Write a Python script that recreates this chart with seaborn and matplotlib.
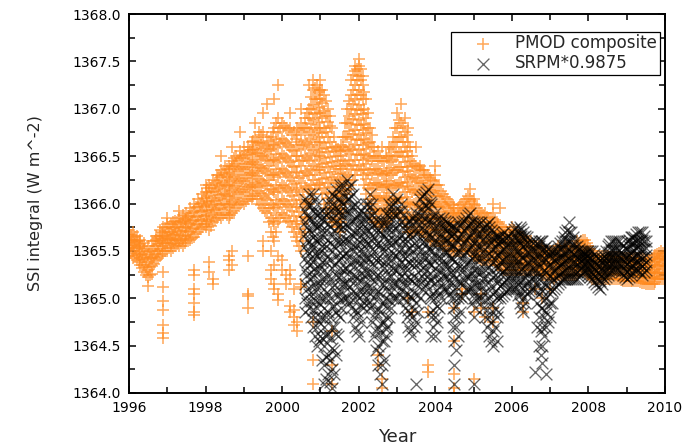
import matplotlib
matplotlib.use("Agg")
import matplotlib.pyplot as plt
import pandas as pd
import seaborn as sns

# ---------------- data ----------------
pmod_year = [1996.0, 1996.1, 1996.2, 1996.3, 1996.4, 1996.5, 1996.6, 1996.7, 1996.8, 1996.9,
             1997.0, 1997.1, 1997.2, 1997.3, 1997.4, 1997.5, 1997.6, 1997.7, 1997.8, 1997.9,
             1998.0, 1998.1, 1998.2, 1998.3, 1998.4, 1998.5, 1998.6, 1998.7, 1998.8, 1998.9,
             1999.0, 1999.1, 1999.2, 1999.3, 1999.4, 1999.5, 1999.6, 1999.7, 1999.8, 1999.9,
             2000.0, 2000.1, 2000.2, 2000.3, 2000.4, 2000.5, 2000.6, 2000.7, 2000.8, 2000.9,
             2001.0, 2001.1, 2001.2, 2001.3, 2001.4, 2001.5, 2001.6, 2001.7, 2001.8, 2001.9,
             2002.0, 2002.1, 2002.2, 2002.3, 2002.4, 2002.5, 2002.6, 2002.7, 2002.8, 2002.9,
             2003.0, 2003.1, 2003.2, 2003.3, 2003.4, 2003.5, 2003.6, 2003.7, 2003.8, 2003.9,
             2004.0, 2004.1, 2004.2, 2004.3, 2004.4, 2004.5, 2004.6, 2004.7, 2004.8, 2004.9,
             2005.0, 2005.1, 2005.2, 2005.3, 2005.4, 2005.5, 2005.6, 2005.7, 2005.8, 2005.9,
             2006.0, 2006.1, 2006.2, 2006.3, 2006.4, 2006.5, 2006.6, 2006.7, 2006.8, 2006.9,
             2007.0, 2007.1, 2007.2, 2007.3, 2007.4, 2007.5, 2007.6, 2007.7, 2007.8, 2007.9,
             2008.0, 2008.1, 2008.2, 2008.3, 2008.4, 2008.5, 2008.6, 2008.7, 2008.8, 2008.9,
             2009.0, 2009.1, 2009.2, 2009.3, 2009.4, 2009.5, 2009.6, 2009.7, 2009.8, 2009.9,
             2010.0]

pmod_ssi = [
    [1365.45, 1365.52, 1365.58, 1365.63, 1365.68, 1365.72],
    [1365.42, 1365.50, 1365.56, 1365.62, 1365.70],
    [1365.40, 1365.47, 1365.54, 1365.60, 1365.66],
    [1365.35, 1365.42, 1365.50, 1365.57, 1365.62],
    [1365.28, 1365.35, 1365.44, 1365.52, 1365.58],
    [1365.13, 1365.22, 1365.30, 1365.38, 1365.46, 1365.55],
    [1365.26, 1365.34, 1365.42, 1365.50, 1365.60],
    [1365.40, 1365.47, 1365.55, 1365.62, 1365.66],
    [1365.45, 1365.52, 1365.60, 1365.66, 1365.72],
    [1364.58, 1364.63, 1364.72, 1364.88, 1364.97, 1365.12, 1365.28, 1365.50, 1365.58, 1365.66, 1365.75],
    [1365.50, 1365.58, 1365.64, 1365.70, 1365.78, 1365.85],
    [1365.50, 1365.57, 1365.63, 1365.70, 1365.78],
    [1365.55, 1365.61, 1365.68, 1365.75, 1365.82],
    [1365.55, 1365.62, 1365.70, 1365.78, 1365.85, 1365.92],
    [1365.55, 1365.63, 1365.71, 1365.80, 1365.88],
    [1365.60, 1365.67, 1365.75, 1365.83, 1365.90],
    [1365.62, 1365.70, 1365.78, 1365.86, 1365.95],
    [1364.82, 1364.86, 1364.95, 1365.05, 1365.10, 1365.25, 1365.30, 1365.65, 1365.74, 1365.83, 1365.92, 1366.00],
    [1365.70, 1365.78, 1365.87, 1365.96, 1366.05],
    [1365.75, 1365.83, 1365.92, 1366.01, 1366.10],
    [1365.75, 1365.84, 1365.93, 1366.03, 1366.12, 1366.20],
    [1365.28, 1365.38, 1365.72, 1365.82, 1365.92, 1366.02, 1366.12, 1366.20],
    [1365.15, 1365.20, 1365.80, 1365.90, 1366.00, 1366.12, 1366.25],
    [1365.85, 1365.94, 1366.04, 1366.15, 1366.24, 1366.30],
    [1365.85, 1365.95, 1366.06, 1366.17, 1366.28, 1366.35, 1366.50],
    [1365.90, 1366.00, 1366.10, 1366.20, 1366.30, 1366.40],
    [1365.30, 1365.40, 1365.45, 1365.85, 1365.96, 1366.08, 1366.20, 1366.32, 1366.40],
    [1365.35, 1365.50, 1365.90, 1366.02, 1366.14, 1366.26, 1366.38, 1366.45, 1366.60],
    [1365.95, 1366.06, 1366.18, 1366.30, 1366.42, 1366.50],
    [1366.00, 1366.12, 1366.24, 1366.36, 1366.48, 1366.55, 1366.75],
    [1366.00, 1366.12, 1366.24, 1366.36, 1366.48, 1366.60],
    [1364.90, 1365.02, 1365.05, 1365.45, 1366.05, 1366.17, 1366.30, 1366.42, 1366.52, 1366.60],
    [1366.05, 1366.17, 1366.30, 1366.42, 1366.54, 1366.65],
    [1366.10, 1366.22, 1366.34, 1366.46, 1366.58, 1366.70, 1366.85],
    [1366.00, 1366.13, 1366.26, 1366.39, 1366.52, 1366.64, 1366.75],
    [1365.50, 1365.60, 1365.95, 1366.08, 1366.22, 1366.36, 1366.50, 1366.64, 1366.75, 1366.95],
    [1365.90, 1366.04, 1366.18, 1366.32, 1366.46, 1366.58, 1366.70, 1367.05],
    [1365.20, 1365.30, 1365.50, 1365.70, 1365.85, 1366.00, 1366.15, 1366.30, 1366.45, 1366.58, 1366.70],
    [1365.10, 1365.15, 1365.35, 1365.60, 1365.78, 1365.95, 1366.12, 1366.30, 1366.46, 1366.62, 1366.80, 1367.10],
    [1364.98, 1365.05, 1365.45, 1365.80, 1365.96, 1366.12, 1366.28, 1366.44, 1366.60, 1366.75, 1366.90, 1367.25],
    [1365.30, 1365.40, 1365.90, 1366.05, 1366.20, 1366.36, 1366.52, 1366.68, 1366.85],
    [1365.15, 1365.25, 1365.85, 1366.00, 1366.16, 1366.32, 1366.48, 1366.64, 1366.80],
    [1364.85, 1364.92, 1365.20, 1365.30, 1365.80, 1365.96, 1366.12, 1366.28, 1366.44, 1366.60, 1366.80, 1366.95],
    [1364.72, 1364.80, 1364.88, 1365.10, 1365.70, 1365.87, 1366.04, 1366.21, 1366.38, 1366.55, 1366.75],
    [1364.65, 1364.75, 1365.60, 1365.78, 1365.96, 1366.14, 1366.32, 1366.50, 1366.65, 1366.80],
    [1365.12, 1365.15, 1365.50, 1365.68, 1365.86, 1366.04, 1366.22, 1366.40, 1366.58, 1366.72, 1366.85, 1367.00],
    [1365.70, 1365.86, 1366.02, 1366.18, 1366.34, 1366.50, 1366.66, 1366.80, 1366.90],
    [1366.00, 1366.15, 1366.30, 1366.45, 1366.60, 1366.75, 1366.90, 1367.00, 1367.25],
    [1364.10, 1364.35, 1364.75, 1366.10, 1366.25, 1366.40, 1366.56, 1366.72, 1366.88, 1367.04, 1367.20, 1367.30],
    [1366.20, 1366.35, 1366.50, 1366.65, 1366.80, 1366.95, 1367.10, 1367.25],
    [1366.20, 1366.35, 1366.50, 1366.65, 1366.80, 1366.95, 1367.10, 1367.20, 1367.30],
    [1366.00, 1366.16, 1366.32, 1366.48, 1366.64, 1366.80, 1366.98, 1367.15],
    [1365.90, 1366.06, 1366.22, 1366.38, 1366.54, 1366.70, 1366.86, 1367.00],
    [1364.10, 1364.30, 1364.65, 1365.80, 1365.96, 1366.12, 1366.28, 1366.44, 1366.60, 1366.80],
    [1365.80, 1365.94, 1366.08, 1366.22, 1366.36, 1366.50, 1366.60],
    [1365.70, 1365.84, 1365.98, 1366.12, 1366.26, 1366.40, 1366.55],
    [1365.90, 1366.04, 1366.18, 1366.32, 1366.46, 1366.60, 1366.70],
    [1366.10, 1366.25, 1366.40, 1366.55, 1366.70, 1366.85, 1367.00],
    [1366.20, 1366.36, 1366.52, 1366.68, 1366.84, 1367.00, 1367.15, 1367.30],
    [1366.30, 1366.46, 1366.62, 1366.78, 1366.94, 1367.10, 1367.25, 1367.40, 1367.45],
    [1366.40, 1366.56, 1366.72, 1366.88, 1367.04, 1367.20, 1367.35, 1367.45, 1367.52],
    [1366.30, 1366.46, 1366.62, 1366.78, 1366.94, 1367.10, 1367.25, 1367.35],
    [1366.10, 1366.26, 1366.42, 1366.58, 1366.74, 1366.90, 1367.10],
    [1365.90, 1366.05, 1366.20, 1366.35, 1366.50, 1366.65, 1366.80],
    [1365.80, 1365.94, 1366.08, 1366.22, 1366.36, 1366.50, 1366.60],
    [1364.30, 1364.40, 1365.80, 1365.93, 1366.06, 1366.19, 1366.32, 1366.45, 1366.55],
    [1364.05, 1364.15, 1365.75, 1365.89, 1366.03, 1366.17, 1366.31, 1366.45, 1366.60],
    [1365.80, 1365.93, 1366.06, 1366.19, 1366.32, 1366.50],
    [1365.85, 1365.98, 1366.11, 1366.24, 1366.37, 1366.50, 1366.60],
    [1365.90, 1366.04, 1366.18, 1366.32, 1366.46, 1366.60, 1366.70],
    [1365.90, 1366.05, 1366.20, 1366.35, 1366.50, 1366.65, 1366.80, 1366.95],
    [1365.90, 1366.06, 1366.22, 1366.38, 1366.54, 1366.70, 1366.85, 1367.05],
    [1365.80, 1365.96, 1366.12, 1366.28, 1366.44, 1366.60, 1366.75, 1366.90],
    [1365.00, 1365.70, 1365.86, 1366.02, 1366.18, 1366.34, 1366.50, 1366.65, 1366.80],
    [1364.85, 1365.70, 1365.84, 1365.98, 1366.12, 1366.26, 1366.40, 1366.50],
    [1365.75, 1365.88, 1366.01, 1366.14, 1366.27, 1366.40, 1366.60],
    [1365.70, 1365.83, 1365.96, 1366.09, 1366.22, 1366.35, 1366.40],
    [1365.70, 1365.82, 1365.94, 1366.06, 1366.18, 1366.30, 1366.35],
    [1364.22, 1364.30, 1364.85, 1365.65, 1365.78, 1365.91, 1366.04, 1366.17, 1366.30],
    [1365.60, 1365.73, 1365.86, 1365.99, 1366.12, 1366.25],
    [1365.60, 1365.72, 1365.84, 1365.96, 1366.08, 1366.20, 1366.30, 1366.40],
    [1365.60, 1365.72, 1365.84, 1365.96, 1366.08, 1366.20],
    [1365.55, 1365.66, 1365.77, 1365.88, 1365.99, 1366.10],
    [1365.55, 1365.65, 1365.75, 1365.85, 1365.95, 1366.05],
    [1365.50, 1365.60, 1365.70, 1365.80, 1365.90, 1366.00],
    [1364.00, 1364.05, 1364.20, 1364.55, 1364.90, 1365.50, 1365.60, 1365.70, 1365.80, 1365.88, 1365.95],
    [1365.50, 1365.60, 1365.70, 1365.80, 1365.88, 1365.95],
    [1365.05, 1365.10, 1365.50, 1365.60, 1365.70, 1365.80, 1365.90, 1366.00],
    [1365.55, 1365.65, 1365.75, 1365.85, 1365.95, 1366.05],
    [1365.50, 1365.61, 1365.72, 1365.83, 1365.94, 1366.05, 1366.15],
    [1364.15, 1364.85, 1365.45, 1365.56, 1365.67, 1365.78, 1365.89, 1366.00, 1366.05],
    [1365.45, 1365.55, 1365.65, 1365.75, 1365.85, 1365.95],
    [1364.90, 1365.05, 1365.40, 1365.50, 1365.60, 1365.70, 1365.80, 1365.90],
    [1364.80, 1365.40, 1365.50, 1365.60, 1365.70, 1365.80, 1365.90],
    [1365.40, 1365.49, 1365.58, 1365.67, 1365.76, 1365.85],
    [1364.75, 1364.90, 1365.40, 1365.50, 1365.60, 1365.70, 1365.80, 1365.90, 1366.00],
    [1365.35, 1365.44, 1365.53, 1365.62, 1365.71, 1365.80],
    [1365.35, 1365.44, 1365.53, 1365.62, 1365.70, 1365.75, 1365.95],
    [1365.30, 1365.39, 1365.48, 1365.57, 1365.66, 1365.75],
    [1365.30, 1365.38, 1365.46, 1365.54, 1365.62, 1365.70],
    [1365.30, 1365.39, 1365.48, 1365.57, 1365.66, 1365.75],
    [1365.30, 1365.38, 1365.46, 1365.54, 1365.62, 1365.70],
    [1365.30, 1365.37, 1365.44, 1365.51, 1365.58, 1365.65],
    [1364.85, 1364.95, 1365.30, 1365.37, 1365.44, 1365.51, 1365.58, 1365.65],
    [1365.30, 1365.36, 1365.42, 1365.48, 1365.54, 1365.60],
    [1365.30, 1365.36, 1365.42, 1365.48, 1365.54, 1365.60],
    [1365.10, 1365.30, 1365.36, 1365.42, 1365.48, 1365.55],
    [1365.30, 1365.36, 1365.42, 1365.48, 1365.55],
    [1365.00, 1365.25, 1365.32, 1365.39, 1365.46, 1365.55],
    [1365.25, 1365.31, 1365.37, 1365.43, 1365.50],
    [1365.10, 1365.25, 1365.31, 1365.37, 1365.43, 1365.50],
    [1365.20, 1365.27, 1365.34, 1365.41, 1365.50],
    [1365.25, 1365.32, 1365.39, 1365.46, 1365.55],
    [1365.25, 1365.31, 1365.37, 1365.43, 1365.50],
    [1365.25, 1365.32, 1365.39, 1365.46, 1365.55],
    [1365.25, 1365.32, 1365.39, 1365.46, 1365.55],
    [1365.25, 1365.31, 1365.37, 1365.43, 1365.50],
    [1365.25, 1365.32, 1365.40, 1365.48, 1365.55, 1365.60],
    [1365.30, 1365.37, 1365.44, 1365.51, 1365.60],
    [1365.30, 1365.38, 1365.46, 1365.54, 1365.62],
    [1365.25, 1365.32, 1365.40, 1365.48, 1365.55],
    [1365.20, 1365.27, 1365.34, 1365.42, 1365.50],
    [1365.20, 1365.26, 1365.32, 1365.39, 1365.45],
    [1365.20, 1365.26, 1365.32, 1365.39, 1365.45],
    [1365.20, 1365.26, 1365.32, 1365.39, 1365.45],
    [1365.20, 1365.26, 1365.32, 1365.38, 1365.45],
    [1365.20, 1365.26, 1365.32, 1365.38, 1365.44],
    [1365.20, 1365.26, 1365.32, 1365.38, 1365.44],
    [1365.20, 1365.26, 1365.32, 1365.38, 1365.44],
    [1365.18, 1365.25, 1365.32, 1365.38, 1365.42],
    [1365.18, 1365.25, 1365.32, 1365.38, 1365.42],
    [1365.18, 1365.25, 1365.32, 1365.38, 1365.42],
    [1365.18, 1365.25, 1365.31, 1365.37, 1365.42],
    [1365.18, 1365.24, 1365.30, 1365.36, 1365.42],
    [1365.16, 1365.23, 1365.30, 1365.36, 1365.42],
    [1365.15, 1365.22, 1365.29, 1365.35, 1365.40],
    [1365.15, 1365.21, 1365.27, 1365.33, 1365.40],
    [1365.15, 1365.22, 1365.30, 1365.38, 1365.45],
    [1365.20, 1365.27, 1365.34, 1365.41, 1365.47],
    [1365.20, 1365.28, 1365.36, 1365.44, 1365.50],
    [1365.20, 1365.27, 1365.34, 1365.40, 1365.45],
]

# PMOD readings between the columns above (half-step dates)
pmod_year_mid = [1996.05, 1996.15, 1996.25, 1996.35, 1996.45, 1996.55, 1996.65, 1996.75, 1996.85, 1996.95,
                 1997.05, 1997.15, 1997.25, 1997.35, 1997.45, 1997.55, 1997.65, 1997.75, 1997.85, 1997.95,
                 1998.05, 1998.15, 1998.25, 1998.35, 1998.45, 1998.55, 1998.65, 1998.75, 1998.85, 1998.95,
                 1999.05, 1999.15, 1999.25, 1999.35, 1999.45, 1999.55, 1999.65, 1999.75, 1999.85, 1999.95,
                 2000.05, 2000.15, 2000.25, 2000.35, 2000.45, 2000.55, 2000.65, 2000.75, 2000.85, 2000.95,
                 2001.05, 2001.15, 2001.25, 2001.35, 2001.45, 2001.55, 2001.65, 2001.75, 2001.85, 2001.95,
                 2002.05, 2002.15, 2002.25, 2002.35, 2002.45, 2002.55, 2002.65, 2002.75, 2002.85, 2002.95,
                 2003.05, 2003.15, 2003.25, 2003.35, 2003.45, 2003.55, 2003.65, 2003.75, 2003.85, 2003.95,
                 2004.05, 2004.15, 2004.25, 2004.35, 2004.45, 2004.55, 2004.65, 2004.75, 2004.85, 2004.95,
                 2005.05, 2005.15, 2005.25, 2005.35, 2005.45, 2005.55, 2005.65, 2005.75, 2005.85, 2005.95,
                 2006.05, 2006.15, 2006.25, 2006.35, 2006.45, 2006.55, 2006.65, 2006.75, 2006.85, 2006.95,
                 2007.05, 2007.15, 2007.25, 2007.35, 2007.45, 2007.55, 2007.65, 2007.75, 2007.85, 2007.95,
                 2008.05, 2008.15, 2008.25, 2008.35, 2008.45, 2008.55, 2008.65, 2008.75, 2008.85, 2008.95,
                 2009.05, 2009.15, 2009.25, 2009.35, 2009.45, 2009.55, 2009.65, 2009.75, 2009.85, 2009.95]

pmod_ssi_mid = [
    [1365.48, 1365.55, 1365.61, 1365.67],
    [1365.45, 1365.53, 1365.59, 1365.65],
    [1365.38, 1365.46, 1365.53, 1365.60],
    [1365.32, 1365.40, 1365.47, 1365.55],
    [1365.25, 1365.33, 1365.41, 1365.49],
    [1365.25, 1365.33, 1365.42, 1365.50],
    [1365.36, 1365.44, 1365.52, 1365.60],
    [1365.43, 1365.50, 1365.57, 1365.64],
    [1365.47, 1365.55, 1365.63, 1365.70],
    [1365.50, 1365.58, 1365.66, 1365.74],
    [1365.53, 1365.61, 1365.68, 1365.75],
    [1365.53, 1365.60, 1365.67, 1365.74, 1365.80],
    [1365.57, 1365.64, 1365.72, 1365.80],
    [1365.58, 1365.66, 1365.74, 1365.82],
    [1365.58, 1365.66, 1365.75, 1365.84],
    [1365.63, 1365.71, 1365.79, 1365.87],
    [1365.64, 1365.73, 1365.82, 1365.90],
    [1365.68, 1365.77, 1365.86, 1365.96],
    [1365.73, 1365.82, 1365.91, 1366.00],
    [1365.78, 1365.87, 1365.97, 1366.06],
    [1365.78, 1365.88, 1365.98, 1366.08, 1366.16],
    [1365.76, 1365.86, 1365.96, 1366.06, 1366.16],
    [1365.83, 1365.93, 1366.03, 1366.13, 1366.22],
    [1365.88, 1365.98, 1366.09, 1366.20, 1366.30],
    [1365.88, 1365.99, 1366.10, 1366.22, 1366.32],
    [1365.88, 1365.98, 1366.08, 1366.18, 1366.28, 1366.36],
    [1365.88, 1366.00, 1366.12, 1366.24, 1366.36],
    [1365.92, 1366.04, 1366.16, 1366.28, 1366.40, 1366.48],
    [1365.98, 1366.10, 1366.22, 1366.34, 1366.46],
    [1366.02, 1366.14, 1366.26, 1366.38, 1366.50],
    [1366.03, 1366.15, 1366.27, 1366.39, 1366.51],
    [1366.08, 1366.20, 1366.32, 1366.44, 1366.56],
    [1366.08, 1366.20, 1366.32, 1366.44, 1366.56, 1366.66],
    [1366.05, 1366.17, 1366.29, 1366.41, 1366.53, 1366.65],
    [1365.98, 1366.11, 1366.24, 1366.37, 1366.50, 1366.62, 1366.72],
    [1365.92, 1366.06, 1366.20, 1366.34, 1366.48, 1366.60],
    [1365.80, 1365.95, 1366.10, 1366.25, 1366.40, 1366.55, 1366.66],
    [1365.65, 1365.82, 1365.98, 1366.14, 1366.30, 1366.46, 1366.62, 1366.75],
    [1365.70, 1365.88, 1366.04, 1366.20, 1366.36, 1366.52, 1366.68, 1366.85],
    [1365.85, 1366.00, 1366.16, 1366.32, 1366.48, 1366.64, 1366.80],
    [1365.88, 1366.03, 1366.18, 1366.34, 1366.50, 1366.66, 1366.82],
    [1365.82, 1365.98, 1366.14, 1366.30, 1366.46, 1366.62, 1366.78],
    [1365.75, 1365.92, 1366.08, 1366.24, 1366.40, 1366.56, 1366.72],
    [1365.65, 1365.82, 1365.99, 1366.16, 1366.33, 1366.50, 1366.68],
    [1365.55, 1365.73, 1365.91, 1366.09, 1366.27, 1366.45, 1366.62, 1366.78],
    [1365.60, 1365.78, 1365.95, 1366.12, 1366.29, 1366.46, 1366.62, 1366.80],
    [1365.85, 1366.00, 1366.16, 1366.32, 1366.48, 1366.64, 1366.80, 1366.95],
    [1366.05, 1366.20, 1366.36, 1366.52, 1366.68, 1366.84, 1367.00, 1367.12],
    [1366.15, 1366.30, 1366.46, 1366.62, 1366.78, 1366.94, 1367.10, 1367.22],
    [1366.22, 1366.38, 1366.54, 1366.70, 1366.86, 1367.02, 1367.18],
    [1366.10, 1366.26, 1366.42, 1366.58, 1366.74, 1366.90, 1367.06, 1367.20],
    [1365.95, 1366.11, 1366.27, 1366.43, 1366.59, 1366.75, 1366.92, 1367.08],
    [1365.85, 1366.01, 1366.17, 1366.33, 1366.49, 1366.65, 1366.82, 1366.92],
    [1365.80, 1365.95, 1366.10, 1366.25, 1366.40, 1366.55, 1366.70],
    [1365.75, 1365.89, 1366.03, 1366.17, 1366.31, 1366.45, 1366.58],
    [1365.80, 1365.94, 1366.08, 1366.22, 1366.36, 1366.50, 1366.62],
    [1366.00, 1366.14, 1366.28, 1366.42, 1366.56, 1366.70, 1366.85],
    [1366.15, 1366.30, 1366.45, 1366.60, 1366.76, 1366.92, 1367.08],
    [1366.25, 1366.41, 1366.57, 1366.73, 1366.89, 1367.05, 1367.20, 1367.36],
    [1366.35, 1366.51, 1366.67, 1366.83, 1366.99, 1367.15, 1367.30, 1367.42],
    [1366.35, 1366.51, 1366.67, 1366.83, 1366.99, 1367.15, 1367.30, 1367.42],
    [1366.20, 1366.36, 1366.52, 1366.68, 1366.84, 1367.00, 1367.18],
    [1366.00, 1366.16, 1366.32, 1366.48, 1366.64, 1366.80, 1366.95],
    [1365.85, 1366.00, 1366.15, 1366.30, 1366.45, 1366.60, 1366.72],
    [1365.80, 1365.94, 1366.08, 1366.22, 1366.36, 1366.50],
    [1365.78, 1365.92, 1366.06, 1366.20, 1366.34, 1366.48],
    [1365.78, 1365.91, 1366.04, 1366.17, 1366.30, 1366.45],
    [1365.82, 1365.95, 1366.08, 1366.21, 1366.34, 1366.48],
    [1365.88, 1366.02, 1366.16, 1366.30, 1366.44, 1366.58],
    [1365.90, 1366.05, 1366.20, 1366.35, 1366.50, 1366.65, 1366.80],
    [1365.90, 1366.06, 1366.22, 1366.38, 1366.54, 1366.70, 1366.88],
    [1365.85, 1366.01, 1366.17, 1366.33, 1366.49, 1366.65, 1366.82],
    [1365.75, 1365.91, 1366.07, 1366.23, 1366.39, 1366.55, 1366.72],
    [1365.70, 1365.85, 1366.00, 1366.15, 1366.30, 1366.45, 1366.60],
    [1365.72, 1365.86, 1366.00, 1366.14, 1366.28, 1366.42],
    [1365.72, 1365.85, 1365.98, 1366.11, 1366.24, 1366.37],
    [1365.70, 1365.83, 1365.96, 1366.09, 1366.22, 1366.35],
    [1365.68, 1365.80, 1365.92, 1366.04, 1366.16, 1366.28],
    [1365.62, 1365.75, 1365.88, 1366.01, 1366.14, 1366.27],
    [1365.60, 1365.72, 1365.85, 1365.98, 1366.11, 1366.24],
    [1365.60, 1365.72, 1365.84, 1365.96, 1366.08, 1366.20],
    [1365.58, 1365.69, 1365.80, 1365.91, 1366.02, 1366.13],
    [1365.55, 1365.65, 1365.75, 1365.86, 1365.97, 1366.07],
    [1365.52, 1365.62, 1365.72, 1365.82, 1365.92, 1366.02],
    [1365.50, 1365.60, 1365.70, 1365.80, 1365.90, 1365.98],
    [1365.50, 1365.60, 1365.70, 1365.80, 1365.90],
    [1365.50, 1365.60, 1365.70, 1365.80, 1365.90, 1365.98],
    [1365.52, 1365.62, 1365.72, 1365.82, 1365.92, 1366.02],
    [1365.52, 1365.63, 1365.74, 1365.85, 1365.96, 1366.08],
    [1365.48, 1365.59, 1365.70, 1365.81, 1365.92, 1366.03],
    [1365.45, 1365.55, 1365.65, 1365.75, 1365.85, 1365.98],
    [1365.42, 1365.52, 1365.62, 1365.72, 1365.82, 1365.92],
    [1365.40, 1365.50, 1365.60, 1365.70, 1365.80, 1365.88],
    [1365.40, 1365.49, 1365.58, 1365.67, 1365.76, 1365.86],
    [1365.40, 1365.49, 1365.58, 1365.67, 1365.76, 1365.85],
    [1365.38, 1365.47, 1365.56, 1365.65, 1365.74, 1365.83],
    [1365.35, 1365.44, 1365.53, 1365.62, 1365.71, 1365.78],
    [1365.32, 1365.41, 1365.50, 1365.59, 1365.68, 1365.75],
    [1365.30, 1365.39, 1365.48, 1365.57, 1365.66, 1365.72],
    [1365.30, 1365.39, 1365.48, 1365.57, 1365.66, 1365.72],
    [1365.30, 1365.38, 1365.46, 1365.54, 1365.62, 1365.72],
    [1365.30, 1365.37, 1365.44, 1365.51, 1365.58, 1365.67],
    [1365.30, 1365.37, 1365.44, 1365.51, 1365.58, 1365.65],
    [1365.30, 1365.36, 1365.42, 1365.48, 1365.54, 1365.62],
    [1365.30, 1365.36, 1365.42, 1365.48, 1365.54, 1365.60],
    [1365.30, 1365.36, 1365.42, 1365.48, 1365.55],
    [1365.30, 1365.36, 1365.42, 1365.48, 1365.54],
    [1365.28, 1365.34, 1365.40, 1365.46, 1365.52],
    [1365.25, 1365.31, 1365.37, 1365.43, 1365.50],
    [1365.25, 1365.31, 1365.37, 1365.43, 1365.48],
    [1365.22, 1365.29, 1365.36, 1365.43, 1365.48],
    [1365.22, 1365.29, 1365.36, 1365.43, 1365.52],
    [1365.25, 1365.31, 1365.37, 1365.44, 1365.52],
    [1365.25, 1365.31, 1365.37, 1365.44, 1365.52],
    [1365.25, 1365.32, 1365.39, 1365.46, 1365.54],
    [1365.25, 1365.31, 1365.37, 1365.44, 1365.52],
    [1365.25, 1365.32, 1365.39, 1365.46, 1365.53],
    [1365.28, 1365.35, 1365.42, 1365.50, 1365.58],
    [1365.30, 1365.37, 1365.45, 1365.53, 1365.61],
    [1365.28, 1365.35, 1365.43, 1365.51, 1365.58],
    [1365.22, 1365.29, 1365.36, 1365.44, 1365.52],
    [1365.20, 1365.27, 1365.34, 1365.40, 1365.47],
    [1365.20, 1365.26, 1365.33, 1365.40, 1365.45],
    [1365.20, 1365.26, 1365.33, 1365.40, 1365.45],
    [1365.20, 1365.26, 1365.32, 1365.39, 1365.45],
    [1365.20, 1365.26, 1365.32, 1365.38, 1365.44],
    [1365.20, 1365.26, 1365.32, 1365.38, 1365.44],
    [1365.20, 1365.26, 1365.32, 1365.38, 1365.44],
    [1365.19, 1365.25, 1365.32, 1365.38, 1365.43],
    [1365.18, 1365.25, 1365.32, 1365.38, 1365.42],
    [1365.18, 1365.25, 1365.32, 1365.38, 1365.42],
    [1365.18, 1365.25, 1365.31, 1365.37, 1365.42],
    [1365.18, 1365.24, 1365.30, 1365.36, 1365.42],
    [1365.17, 1365.24, 1365.30, 1365.36, 1365.42],
    [1365.16, 1365.22, 1365.29, 1365.35, 1365.41],
    [1365.15, 1365.21, 1365.28, 1365.34, 1365.40],
    [1365.15, 1365.21, 1365.28, 1365.35, 1365.42],
    [1365.17, 1365.24, 1365.31, 1365.38, 1365.46],
    [1365.20, 1365.27, 1365.34, 1365.41, 1365.48],
    [1365.20, 1365.27, 1365.35, 1365.42, 1365.48],
]

srpm_year = [2000.6, 2000.7, 2000.8, 2000.9,
             2001.0, 2001.1, 2001.2, 2001.3, 2001.4, 2001.5, 2001.6, 2001.7, 2001.8, 2001.9,
             2002.0, 2002.1, 2002.2, 2002.3, 2002.4, 2002.5, 2002.6, 2002.7, 2002.8, 2002.9,
             2003.0, 2003.1, 2003.2, 2003.3, 2003.4, 2003.5, 2003.6, 2003.7, 2003.8, 2003.9,
             2004.0, 2004.1, 2004.2, 2004.3, 2004.4, 2004.5, 2004.6, 2004.7, 2004.8, 2004.9,
             2005.0, 2005.1, 2005.2, 2005.3, 2005.4, 2005.5, 2005.6, 2005.7, 2005.8, 2005.9,
             2006.0, 2006.1, 2006.2, 2006.3, 2006.4, 2006.5, 2006.6, 2006.7, 2006.8, 2006.9,
             2007.0, 2007.1, 2007.2, 2007.3, 2007.4, 2007.5, 2007.6, 2007.7, 2007.8, 2007.9,
             2008.0, 2008.1, 2008.2, 2008.3, 2008.4, 2008.5, 2008.6, 2008.7, 2008.8, 2008.9,
             2009.0, 2009.1, 2009.2, 2009.3, 2009.4, 2009.5]

srpm_ssi = [
    [1364.85, 1365.00, 1365.15, 1365.30, 1365.42, 1365.55, 1365.68, 1365.80, 1365.92, 1366.05],
    [1364.90, 1365.05, 1365.20, 1365.35, 1365.48, 1365.60, 1365.72, 1365.85, 1365.98, 1366.10],
    [1364.70, 1364.88, 1365.05, 1365.22, 1365.38, 1365.52, 1365.65, 1365.78, 1365.92, 1366.10],
    [1364.50, 1364.70, 1364.90, 1365.10, 1365.28, 1365.45, 1365.60, 1365.75, 1365.88, 1366.00],
    [1364.60, 1364.80, 1365.00, 1365.18, 1365.35, 1365.50, 1365.65, 1365.78, 1365.90],
    [1364.10, 1364.30, 1364.50, 1364.70, 1364.90, 1365.10, 1365.30, 1365.48, 1365.65, 1365.80, 1365.90],
    [1364.20, 1364.40, 1364.62, 1364.85, 1365.05, 1365.25, 1365.45, 1365.62, 1365.78, 1365.90, 1366.00],
    [1364.05, 1364.25, 1364.48, 1364.70, 1364.92, 1365.12, 1365.32, 1365.50, 1365.68, 1365.85, 1366.00, 1366.10],
    [1364.40, 1364.62, 1364.85, 1365.05, 1365.25, 1365.45, 1365.62, 1365.80, 1365.95, 1366.15],
    [1364.80, 1364.98, 1365.15, 1365.32, 1365.48, 1365.63, 1365.78, 1365.92, 1366.05, 1366.20],
    [1365.00, 1365.15, 1365.30, 1365.45, 1365.60, 1365.75, 1365.88, 1366.00, 1366.20],
    [1365.00, 1365.16, 1365.32, 1365.48, 1365.62, 1365.76, 1365.90, 1366.05, 1366.25],
    [1364.90, 1365.06, 1365.22, 1365.38, 1365.54, 1365.68, 1365.82, 1365.96, 1366.08, 1366.20],
    [1364.70, 1364.88, 1365.06, 1365.24, 1365.40, 1365.55, 1365.70, 1365.85, 1366.00],
    [1364.60, 1364.80, 1365.00, 1365.18, 1365.35, 1365.50, 1365.65, 1365.78, 1365.90],
    [1364.90, 1365.05, 1365.20, 1365.35, 1365.50, 1365.64, 1365.78, 1365.90],
    [1365.00, 1365.15, 1365.30, 1365.45, 1365.60, 1365.74, 1365.88, 1366.00],
    [1364.90, 1365.06, 1365.22, 1365.38, 1365.54, 1365.68, 1365.82, 1365.96, 1366.10],
    [1364.60, 1364.80, 1365.00, 1365.18, 1365.35, 1365.50, 1365.65, 1365.78, 1365.90],
    [1364.30, 1364.50, 1364.70, 1364.90, 1365.08, 1365.25, 1365.42, 1365.58, 1365.72, 1365.80],
    [1364.10, 1364.30, 1364.55, 1364.75, 1364.95, 1365.15, 1365.35, 1365.52, 1365.68, 1365.80],
    [1364.60, 1364.68, 1364.80, 1365.00, 1365.20, 1365.38, 1365.55, 1365.70, 1365.82, 1365.90],
    [1364.80, 1364.98, 1365.15, 1365.32, 1365.48, 1365.62, 1365.76, 1365.90, 1366.00],
    [1365.00, 1365.16, 1365.32, 1365.48, 1365.62, 1365.76, 1365.90, 1366.00, 1366.10],
    [1365.00, 1365.15, 1365.30, 1365.45, 1365.60, 1365.74, 1365.88, 1366.05],
    [1365.10, 1365.24, 1365.38, 1365.52, 1365.66, 1365.80, 1365.92, 1366.00],
    [1364.90, 1365.05, 1365.20, 1365.35, 1365.50, 1365.64, 1365.78],
    [1364.70, 1364.88, 1365.05, 1365.22, 1365.38, 1365.52, 1365.66, 1365.80],
    [1364.60, 1364.80, 1365.00, 1365.18, 1365.35, 1365.50, 1365.65, 1365.78, 1365.85],
    [1364.10, 1364.75, 1364.95, 1365.15, 1365.35, 1365.52, 1365.68, 1365.80, 1365.90],
    [1365.00, 1365.15, 1365.30, 1365.45, 1365.60, 1365.74, 1365.88, 1366.05],
    [1365.20, 1365.33, 1365.46, 1365.59, 1365.72, 1365.85, 1365.98, 1366.10],
    [1365.10, 1365.24, 1365.38, 1365.52, 1365.66, 1365.80, 1365.95, 1366.15],
    [1364.60, 1364.80, 1365.00, 1365.18, 1365.35, 1365.50, 1365.65, 1365.80, 1366.00],
    [1364.60, 1364.80, 1365.00, 1365.16, 1365.32, 1365.48, 1365.62, 1365.76, 1365.90],
    [1364.90, 1365.05, 1365.20, 1365.35, 1365.50, 1365.63, 1365.75, 1365.85],
    [1365.10, 1365.23, 1365.36, 1365.49, 1365.62, 1365.74, 1365.85],
    [1365.10, 1365.23, 1365.36, 1365.49, 1365.61, 1365.72, 1365.80],
    [1365.00, 1365.14, 1365.28, 1365.42, 1365.55, 1365.66, 1365.75],
    [1364.10, 1364.30, 1364.55, 1364.80, 1365.00, 1365.20, 1365.38, 1365.55, 1365.68, 1365.75],
    [1364.60, 1364.80, 1365.00, 1365.18, 1365.35, 1365.50, 1365.65, 1365.80],
    [1365.00, 1365.14, 1365.28, 1365.42, 1365.55, 1365.68, 1365.80],
    [1365.10, 1365.23, 1365.36, 1365.49, 1365.62, 1365.74, 1365.85],
    [1365.10, 1365.24, 1365.38, 1365.52, 1365.65, 1365.78, 1365.90],
    [1364.10, 1364.80, 1365.00, 1365.15, 1365.30, 1365.45, 1365.58, 1365.70, 1365.80],
    [1365.00, 1365.14, 1365.28, 1365.42, 1365.55, 1365.68, 1365.80],
    [1365.00, 1365.14, 1365.28, 1365.42, 1365.55, 1365.68, 1365.80],
    [1364.80, 1364.98, 1365.15, 1365.30, 1365.45, 1365.58, 1365.70, 1365.75],
    [1364.60, 1364.80, 1365.00, 1365.17, 1365.33, 1365.48, 1365.62, 1365.75, 1365.80],
    [1364.50, 1364.65, 1364.85, 1365.05, 1365.22, 1365.38, 1365.52, 1365.64, 1365.70],
    [1364.55, 1364.80, 1365.00, 1365.16, 1365.32, 1365.46, 1365.58, 1365.65],
    [1365.00, 1365.13, 1365.26, 1365.38, 1365.50, 1365.60, 1365.65],
    [1365.05, 1365.17, 1365.29, 1365.41, 1365.52, 1365.62, 1365.70],
    [1365.10, 1365.21, 1365.32, 1365.43, 1365.54, 1365.65],
    [1365.10, 1365.21, 1365.32, 1365.43, 1365.54, 1365.63, 1365.70],
    [1365.10, 1365.21, 1365.32, 1365.43, 1365.54, 1365.65, 1365.75],
    [1364.95, 1365.08, 1365.21, 1365.34, 1365.46, 1365.58, 1365.68, 1365.75],
    [1364.85, 1365.00, 1365.14, 1365.28, 1365.42, 1365.55, 1365.65, 1365.70],
    [1365.05, 1365.16, 1365.27, 1365.38, 1365.49, 1365.58, 1365.65],
    [1365.10, 1365.20, 1365.30, 1365.40, 1365.50, 1365.60],
    [1364.22, 1365.10, 1365.20, 1365.30, 1365.40, 1365.50, 1365.60],
    [1364.50, 1364.80, 1365.05, 1365.20, 1365.33, 1365.45, 1365.55, 1365.60],
    [1364.32, 1364.50, 1364.70, 1364.90, 1365.08, 1365.24, 1365.38, 1365.50, 1365.60],
    [1364.20, 1364.70, 1364.85, 1365.00, 1365.15, 1365.28, 1365.40, 1365.50, 1365.55],
    [1364.80, 1364.95, 1365.10, 1365.24, 1365.36, 1365.46, 1365.50],
    [1365.10, 1365.20, 1365.30, 1365.40, 1365.50],
    [1365.15, 1365.24, 1365.33, 1365.42, 1365.50, 1365.55],
    [1365.20, 1365.28, 1365.36, 1365.44, 1365.52, 1365.60],
    [1365.20, 1365.30, 1365.40, 1365.50, 1365.60, 1365.70],
    [1365.20, 1365.30, 1365.40, 1365.50, 1365.60, 1365.70, 1365.80],
    [1365.20, 1365.29, 1365.38, 1365.47, 1365.56, 1365.65],
    [1365.20, 1365.28, 1365.36, 1365.44, 1365.50, 1365.55],
    [1365.25, 1365.32, 1365.39, 1365.45, 1365.50],
    [1365.30, 1365.36, 1365.42, 1365.47, 1365.50],
    [1365.25, 1365.31, 1365.37, 1365.43, 1365.50],
    [1365.20, 1365.27, 1365.34, 1365.41, 1365.50],
    [1365.15, 1365.22, 1365.29, 1365.36, 1365.45],
    [1365.10, 1365.18, 1365.26, 1365.34, 1365.40],
    [1365.20, 1365.27, 1365.34, 1365.40, 1365.45],
    [1365.25, 1365.32, 1365.39, 1365.46, 1365.55],
    [1365.30, 1365.37, 1365.44, 1365.51, 1365.60],
    [1365.30, 1365.37, 1365.44, 1365.51, 1365.60],
    [1365.30, 1365.37, 1365.44, 1365.51, 1365.60],
    [1365.25, 1365.32, 1365.39, 1365.46, 1365.55],
    [1365.20, 1365.28, 1365.36, 1365.44, 1365.52, 1365.60],
    [1365.25, 1365.33, 1365.41, 1365.49, 1365.57, 1365.65],
    [1365.30, 1365.37, 1365.44, 1365.51, 1365.58, 1365.65],
    [1365.30, 1365.38, 1365.46, 1365.54, 1365.62, 1365.70],
    [1365.25, 1365.34, 1365.43, 1365.52, 1365.61, 1365.70],
    [1365.30, 1365.38, 1365.46, 1365.53, 1365.60],
]

# SRPM readings between the columns above (half-step dates)
srpm_year_mid = [2000.65, 2000.75, 2000.85, 2000.95,
                 2001.05, 2001.15, 2001.25, 2001.35, 2001.45, 2001.55, 2001.65, 2001.75, 2001.85, 2001.95,
                 2002.05, 2002.15, 2002.25, 2002.35, 2002.45, 2002.55, 2002.65, 2002.75, 2002.85, 2002.95,
                 2003.05, 2003.15, 2003.25, 2003.35, 2003.45, 2003.55, 2003.65, 2003.75, 2003.85, 2003.95,
                 2004.05, 2004.15, 2004.25, 2004.35, 2004.45, 2004.55, 2004.65, 2004.75, 2004.85, 2004.95,
                 2005.05, 2005.15, 2005.25, 2005.35, 2005.45, 2005.55, 2005.65, 2005.75, 2005.85, 2005.95,
                 2006.05, 2006.15, 2006.25, 2006.35, 2006.45, 2006.55, 2006.65, 2006.75, 2006.85, 2006.95,
                 2007.05, 2007.15, 2007.25, 2007.35, 2007.45, 2007.55, 2007.65, 2007.75, 2007.85, 2007.95,
                 2008.05, 2008.15, 2008.25, 2008.35, 2008.45, 2008.55, 2008.65, 2008.75, 2008.85, 2008.95,
                 2009.05, 2009.15, 2009.25, 2009.35, 2009.45]

srpm_ssi_mid = [
    [1364.95, 1365.10, 1365.25, 1365.38, 1365.50, 1365.62, 1365.75, 1365.88, 1366.00],
    [1364.80, 1364.97, 1365.13, 1365.28, 1365.42, 1365.56, 1365.70, 1365.84, 1365.98],
    [1364.60, 1364.80, 1364.98, 1365.15, 1365.32, 1365.48, 1365.62, 1365.76, 1365.90, 1366.05],
    [1364.55, 1364.75, 1364.95, 1365.14, 1365.32, 1365.48, 1365.62, 1365.76, 1365.90],
    [1364.35, 1364.58, 1364.80, 1365.00, 1365.20, 1365.38, 1365.55, 1365.72, 1365.85],
    [1364.15, 1364.38, 1364.60, 1364.80, 1365.00, 1365.20, 1365.38, 1365.55, 1365.72, 1365.88],
    [1364.12, 1364.35, 1364.58, 1364.80, 1365.00, 1365.20, 1365.40, 1365.58, 1365.75, 1365.92, 1366.05],
    [1364.20, 1364.45, 1364.70, 1364.92, 1365.14, 1365.35, 1365.55, 1365.72, 1365.90, 1366.08],
    [1364.60, 1364.82, 1365.02, 1365.22, 1365.40, 1365.58, 1365.75, 1365.90, 1366.05],
    [1364.90, 1365.08, 1365.25, 1365.42, 1365.58, 1365.73, 1365.88, 1366.02, 1366.15],
    [1365.00, 1365.16, 1365.32, 1365.48, 1365.63, 1365.78, 1365.93, 1366.08],
    [1364.95, 1365.12, 1365.28, 1365.44, 1365.60, 1365.75, 1365.90, 1366.05, 1366.18],
    [1364.80, 1364.98, 1365.16, 1365.33, 1365.50, 1365.66, 1365.82, 1365.96, 1366.10],
    [1364.65, 1364.85, 1365.04, 1365.22, 1365.40, 1365.56, 1365.72, 1365.86, 1365.96],
    [1364.75, 1364.93, 1365.10, 1365.27, 1365.43, 1365.58, 1365.72, 1365.85],
    [1364.95, 1365.10, 1365.25, 1365.40, 1365.55, 1365.70, 1365.84, 1365.96],
    [1364.95, 1365.11, 1365.27, 1365.43, 1365.58, 1365.72, 1365.86, 1366.00],
    [1364.75, 1364.93, 1365.11, 1365.28, 1365.45, 1365.60, 1365.75, 1365.88, 1366.00],
    [1364.45, 1364.65, 1364.85, 1365.05, 1365.23, 1365.40, 1365.56, 1365.70, 1365.84],
    [1364.20, 1364.42, 1364.64, 1364.85, 1365.04, 1365.22, 1365.40, 1365.56, 1365.70],
    [1364.35, 1364.55, 1364.75, 1364.95, 1365.14, 1365.32, 1365.50, 1365.66, 1365.80],
    [1364.70, 1364.90, 1365.08, 1365.26, 1365.43, 1365.60, 1365.75, 1365.88],
    [1364.90, 1365.07, 1365.24, 1365.40, 1365.56, 1365.70, 1365.84, 1365.96],
    [1365.00, 1365.15, 1365.30, 1365.45, 1365.60, 1365.74, 1365.88, 1366.02],
    [1365.05, 1365.20, 1365.35, 1365.50, 1365.64, 1365.78, 1365.92],
    [1365.00, 1365.15, 1365.30, 1365.45, 1365.60, 1365.74, 1365.88],
    [1364.80, 1364.97, 1365.14, 1365.30, 1365.45, 1365.60, 1365.74],
    [1364.65, 1364.84, 1365.02, 1365.20, 1365.37, 1365.53, 1365.68, 1365.82],
    [1364.70, 1364.88, 1365.06, 1365.24, 1365.42, 1365.58, 1365.72, 1365.85],
    [1364.85, 1365.03, 1365.20, 1365.37, 1365.54, 1365.70, 1365.84, 1365.96],
    [1365.10, 1365.24, 1365.38, 1365.52, 1365.66, 1365.80, 1365.94, 1366.08],
    [1365.15, 1365.29, 1365.43, 1365.57, 1365.71, 1365.85, 1365.98, 1366.12],
    [1364.85, 1365.02, 1365.19, 1365.36, 1365.52, 1365.68, 1365.84, 1366.02],
    [1364.70, 1364.88, 1365.06, 1365.24, 1365.41, 1365.57, 1365.72, 1365.86],
    [1364.75, 1364.92, 1365.09, 1365.26, 1365.42, 1365.57, 1365.70, 1365.84],
    [1365.00, 1365.14, 1365.28, 1365.42, 1365.56, 1365.68, 1365.80],
    [1365.10, 1365.23, 1365.36, 1365.49, 1365.62, 1365.73, 1365.82],
    [1365.05, 1365.19, 1365.33, 1365.46, 1365.58, 1365.69, 1365.78],
    [1364.70, 1364.90, 1365.08, 1365.25, 1365.41, 1365.56, 1365.68, 1365.76],
    [1364.45, 1364.70, 1364.92, 1365.12, 1365.30, 1365.47, 1365.62, 1365.74],
    [1364.85, 1365.02, 1365.18, 1365.34, 1365.49, 1365.63, 1365.76],
    [1365.05, 1365.19, 1365.33, 1365.47, 1365.60, 1365.72, 1365.82],
    [1365.10, 1365.24, 1365.38, 1365.52, 1365.65, 1365.77, 1365.88],
    [1364.95, 1365.11, 1365.27, 1365.42, 1365.56, 1365.70, 1365.82],
    [1364.90, 1365.06, 1365.21, 1365.36, 1365.50, 1365.63, 1365.75],
    [1365.00, 1365.14, 1365.28, 1365.42, 1365.55, 1365.68, 1365.78],
    [1364.90, 1365.06, 1365.21, 1365.36, 1365.50, 1365.63, 1365.75],
    [1364.70, 1364.88, 1365.06, 1365.23, 1365.39, 1365.54, 1365.67, 1365.78],
    [1364.55, 1364.75, 1364.95, 1365.13, 1365.30, 1365.45, 1365.59, 1365.72],
    [1364.70, 1364.90, 1365.08, 1365.25, 1365.40, 1365.53, 1365.65],
    [1364.85, 1365.02, 1365.18, 1365.33, 1365.46, 1365.58, 1365.66],
    [1365.02, 1365.15, 1365.28, 1365.40, 1365.51, 1365.61, 1365.68],
    [1365.08, 1365.20, 1365.32, 1365.43, 1365.54, 1365.64],
    [1365.10, 1365.21, 1365.32, 1365.43, 1365.54, 1365.64],
    [1365.10, 1365.21, 1365.32, 1365.43, 1365.54, 1365.65, 1365.73],
    [1365.03, 1365.15, 1365.27, 1365.39, 1365.50, 1365.61, 1365.71],
    [1364.90, 1365.04, 1365.18, 1365.31, 1365.44, 1365.56, 1365.66, 1365.73],
    [1364.95, 1365.08, 1365.21, 1365.34, 1365.46, 1365.57, 1365.66],
    [1365.08, 1365.18, 1365.28, 1365.38, 1365.48, 1365.57],
    [1365.10, 1365.20, 1365.30, 1365.40, 1365.50, 1365.58],
    [1364.70, 1364.95, 1365.15, 1365.27, 1365.39, 1365.50, 1365.58],
    [1364.40, 1364.65, 1364.90, 1365.10, 1365.26, 1365.40, 1365.52, 1365.60],
    [1364.60, 1364.80, 1364.98, 1365.15, 1365.30, 1365.43, 1365.53],
    [1364.75, 1364.92, 1365.07, 1365.21, 1365.34, 1365.45, 1365.52],
    [1364.95, 1365.08, 1365.20, 1365.32, 1365.42, 1365.50],
    [1365.12, 1365.22, 1365.32, 1365.41, 1365.50],
    [1365.17, 1365.26, 1365.35, 1365.44, 1365.52, 1365.58],
    [1365.20, 1365.29, 1365.38, 1365.47, 1365.56, 1365.65],
    [1365.20, 1365.30, 1365.40, 1365.50, 1365.60, 1365.72],
    [1365.20, 1365.30, 1365.40, 1365.50, 1365.60, 1365.70],
    [1365.20, 1365.29, 1365.38, 1365.46, 1365.54, 1365.60],
    [1365.22, 1365.30, 1365.38, 1365.45, 1365.52],
    [1365.28, 1365.34, 1365.40, 1365.46, 1365.50],
    [1365.28, 1365.34, 1365.40, 1365.45, 1365.50],
    [1365.22, 1365.29, 1365.36, 1365.43, 1365.50],
    [1365.17, 1365.24, 1365.31, 1365.38, 1365.47],
    [1365.12, 1365.20, 1365.28, 1365.35, 1365.42],
    [1365.15, 1365.22, 1365.30, 1365.37, 1365.43],
    [1365.22, 1365.29, 1365.36, 1365.43, 1365.50],
    [1365.28, 1365.35, 1365.42, 1365.49, 1365.57],
    [1365.30, 1365.37, 1365.44, 1365.51, 1365.60],
    [1365.30, 1365.37, 1365.44, 1365.51, 1365.60],
    [1365.28, 1365.35, 1365.42, 1365.49, 1365.58],
    [1365.22, 1365.30, 1365.38, 1365.45, 1365.53],
    [1365.22, 1365.30, 1365.38, 1365.46, 1365.55, 1365.62],
    [1365.28, 1365.35, 1365.42, 1365.50, 1365.58, 1365.65],
    [1365.30, 1365.38, 1365.46, 1365.53, 1365.60, 1365.68],
    [1365.28, 1365.36, 1365.44, 1365.52, 1365.60, 1365.70],
    [1365.28, 1365.36, 1365.44, 1365.52, 1365.60, 1365.66],
]

x_ticks = [1996, 1998, 2000, 2002, 2004, 2006, 2008, 2010]
y_ticks = [1364.0, 1364.5, 1365.0, 1365.5, 1366.0, 1366.5, 1367.0, 1367.5, 1368.0]
series_labels = ["PMOD composite", "SRPM*0.9875"]


def to_frame(year_lists, group_lists):
    xs, ys = [], []
    for years, groups in zip(year_lists, group_lists):
        for yr, vals in zip(years, groups):
            for v in vals:
                xs.append(yr)
                ys.append(v)
    return pd.DataFrame({"Year": xs, "SSI": ys})


pmod_df = to_frame([pmod_year, pmod_year_mid], [pmod_ssi, pmod_ssi_mid])
srpm_df = to_frame([srpm_year, srpm_year_mid], [srpm_ssi, srpm_ssi_mid])

# ---------------- style ----------------
sns.set_style("ticks")
plt.rcParams["font.family"] = ["DejaVu Sans"]

fig = plt.figure(figsize=(7.0, 4.46), dpi=100)
ax = fig.add_axes([129 / 700, 53 / 446, 536 / 700, 379 / 446])

sns.scatterplot(data=pmod_df, x="Year", y="SSI", ax=ax, marker="+", s=64,
                color="#FF8A1F", alpha=0.72, linewidth=1.15, label=series_labels[0])
sns.scatterplot(data=srpm_df, x="Year", y="SSI", ax=ax, marker="x", s=72,
                color="black", alpha=0.6, linewidth=0.95, label=series_labels[1])

ax.set_xlim(1996, 2010)
ax.set_ylim(1364.0, 1368.0)
ax.set_xticks(x_ticks)
ax.set_xticks(range(1996, 2011), minor=True)
ax.set_yticks(y_ticks)
ax.set_yticks([1364 + 0.25 * i for i in range(17)], minor=True)
ax.set_yticklabels([f"{v:.1f}" for v in y_ticks])

ax.tick_params(which="both", direction="in", top=True, right=True, colors="black",
               labelsize=10, width=1.1)
ax.tick_params(which="major", length=5, pad=6)
ax.tick_params(which="minor", length=4)
for sp in ax.spines.values():
    sp.set_linewidth(1.4)
    sp.set_color("black")

ax.set_xlabel("Year", fontsize=13, labelpad=9)
ax.set_ylabel("SSI integral (W m^-2)", fontsize=11.5, labelpad=21)

leg = ax.legend(loc="upper left", bbox_to_anchor=(451 / 700, 1 - 32 / 446),
                bbox_transform=fig.transFigure, fontsize=12, frameon=True,
                fancybox=False, framealpha=1, edgecolor="black",
                borderpad=0.15, labelspacing=0.1, handlelength=3.6,
                handletextpad=0.1, borderaxespad=0)
leg.get_frame().set_linewidth(0.9)

fig.savefig("out.png", dpi=100)
